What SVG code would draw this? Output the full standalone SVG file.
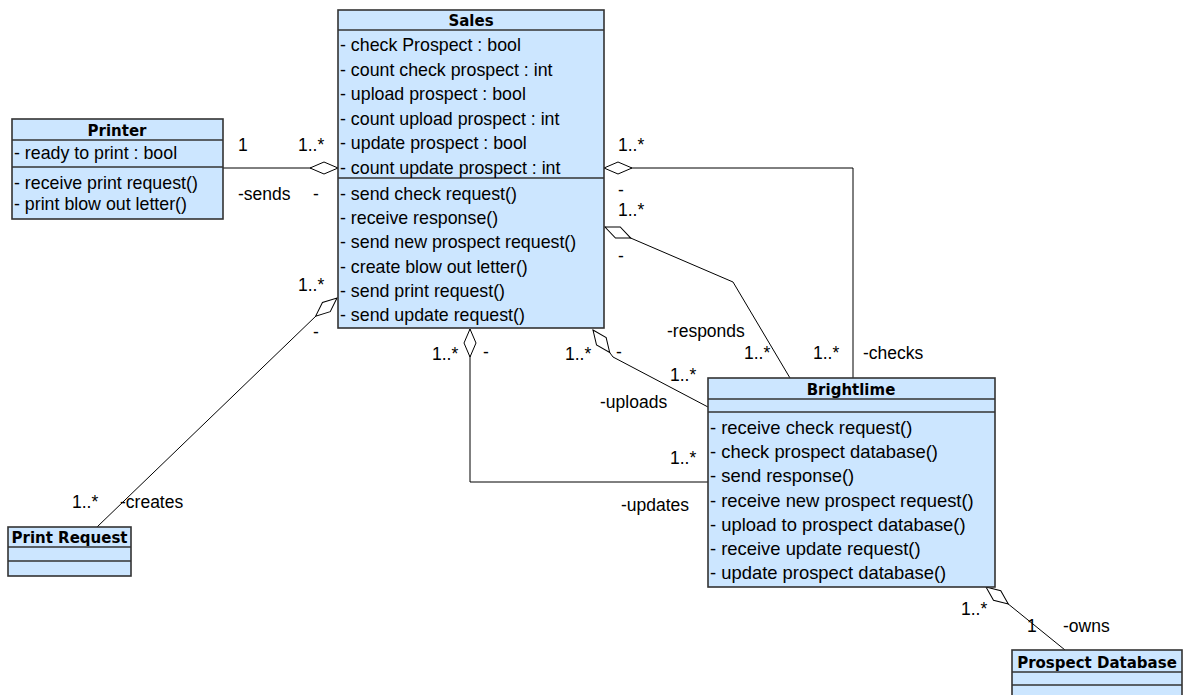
<svg xmlns="http://www.w3.org/2000/svg" width="1188" height="695" viewBox="0 0 1188 695">
<style>
.box{fill:#cce6ff;stroke:#333;stroke-width:1.6}
.sep{stroke:#333;stroke-width:1.6}
.t{font-family:"Liberation Sans",Arial,sans-serif;font-size:17.8px;fill:#000}
.tb{font-family:"Liberation Sans",Arial,sans-serif;font-size:18.4px;fill:#000}
.h{font-family:"DejaVu Sans","Liberation Sans",sans-serif;font-size:15px;font-weight:bold;fill:#000;text-anchor:middle}
.lbl{font-family:"Liberation Sans",Arial,sans-serif;font-size:17.5px;fill:#000}
.c{fill:none;stroke:#000;stroke-width:1}
</style>
<defs>
<marker id="dia" markerUnits="userSpaceOnUse" markerWidth="30" markerHeight="14" viewBox="-1 -1 30 14" refX="0" refY="6" orient="auto">
<path d="M0,6 L14,0 L28,6 L14,12 Z" fill="#fff" stroke="#000" stroke-width="1"/>
</marker>
</defs>
<g id="connectors">
<path class="c" d="M338,168 L223,168" marker-start="url(#dia)"/>
<path class="c" d="M604,168 L853,168 L853,378" marker-start="url(#dia)"/>
<path class="c" d="M605,227 L733,282 L790,378" marker-start="url(#dia)"/>
<path class="c" d="M593,330 L613,357 L708,407" marker-start="url(#dia)"/>
<path class="c" d="M470,329 L470,482 L708,482" marker-start="url(#dia)"/>
<path class="c" d="M337,298 L317,315 L97,527" marker-start="url(#dia)"/>
<path class="c" d="M986,587 L1007,603 L1065,650" marker-start="url(#dia)"/>
<text class="lbl" x="238" y="151">1</text>
<text class="lbl" x="298" y="151">1..*</text>
<text class="lbl" x="238" y="200">-sends</text>
<text class="lbl" x="313" y="200">-</text>
<text class="lbl" x="618" y="151">1..*</text>
<text class="lbl" x="618" y="195.5">-</text>
<text class="lbl" x="618" y="216">1..*</text>
<text class="lbl" x="618" y="262">-</text>
<text class="lbl" x="667" y="337">-responds</text>
<text class="lbl" x="744" y="359">1..*</text>
<text class="lbl" x="813" y="359">1..*</text>
<text class="lbl" x="863" y="359">-checks</text>
<text class="lbl" x="432" y="360">1..*</text>
<text class="lbl" x="483" y="358">-</text>
<text class="lbl" x="565" y="360">1..*</text>
<text class="lbl" x="616" y="358">-</text>
<text class="lbl" x="670" y="381">1..*</text>
<text class="lbl" x="600" y="408">-uploads</text>
<text class="lbl" x="670" y="464">1..*</text>
<text class="lbl" x="621" y="511">-updates</text>
<text class="lbl" x="298" y="291">1..*</text>
<text class="lbl" x="313" y="338">-</text>
<text class="lbl" x="72" y="508">1..*</text>
<text class="lbl" x="120" y="508">-creates</text>
<text class="lbl" x="961" y="615">1..*</text>
<text class="lbl" x="1027" y="632">1</text>
<text class="lbl" x="1063" y="632">-owns</text>
</g>
<g id="sales">
<rect class="box" x="338" y="10" width="266" height="318"/>
<line class="sep" x1="338" y1="30" x2="604" y2="30"/>
<line class="sep" x1="338" y1="178" x2="604" y2="178"/>
<text class="h" x="471" y="26">Sales</text>
<text class="t" x="340" y="51">- check Prospect : bool</text>
<text class="t" x="340" y="75.5">- count check prospect : int</text>
<text class="t" x="340" y="100">- upload prospect : bool</text>
<text class="t" x="340" y="124.5">- count upload prospect : int</text>
<text class="t" x="340" y="149">- update prospect : bool</text>
<text class="t" x="340" y="173.5">- count update prospect : int</text>
<text class="t" x="340" y="200">- send check request()</text>
<text class="t" x="340" y="224.2">- receive response()</text>
<text class="t" x="340" y="248.4">- send new prospect request()</text>
<text class="t" x="340" y="272.6">- create blow out letter()</text>
<text class="t" x="340" y="296.8">- send print request()</text>
<text class="t" x="340" y="321">- send update request()</text>
</g>
<g id="printer">
<rect class="box" x="12" y="119" width="211" height="100"/>
<line class="sep" x1="12" y1="140" x2="223" y2="140"/>
<line class="sep" x1="12" y1="167" x2="223" y2="167"/>
<text class="h" x="117" y="136">Printer</text>
<text class="t" x="14" y="159">- ready to print : bool</text>
<text class="t" x="14" y="189">- receive print request()</text>
<text class="t" x="14" y="210">- print blow out letter()</text>
</g>
<g id="brightlime">
<rect class="box" x="708" y="378" width="287" height="209"/>
<line class="sep" x1="708" y1="399" x2="995" y2="399"/>
<line class="sep" x1="708" y1="412" x2="995" y2="412"/>
<text class="h" x="851" y="395">Brightlime</text>
<text class="tb" x="710" y="434">- receive check request()</text>
<text class="tb" x="710" y="458">- check prospect database()</text>
<text class="tb" x="710" y="482">- send response()</text>
<text class="tb" x="710" y="506.5">- receive new prospect request()</text>
<text class="tb" x="710" y="530.5">- upload to prospect database()</text>
<text class="tb" x="710" y="555">- receive update request()</text>
<text class="tb" x="710" y="579">- update prospect database()</text>
</g>
<g id="print-request">
<rect class="box" x="8" y="527" width="123" height="49"/>
<line class="sep" x1="8" y1="547" x2="131" y2="547"/>
<line class="sep" x1="8" y1="561" x2="131" y2="561"/>
<text class="h" x="69.5" y="543">Print Request</text>
</g>
<g id="prospect-database">
<rect class="box" x="1012" y="650" width="170" height="60"/>
<line class="sep" x1="1012" y1="672" x2="1182" y2="672"/>
<line class="sep" x1="1012" y1="685" x2="1182" y2="685"/>
<text class="h" x="1097" y="668">Prospect Database</text>
</g>
</svg>
